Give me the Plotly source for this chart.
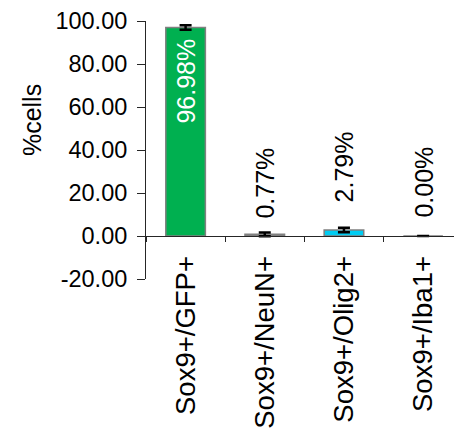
import plotly.graph_objects as go

categories = ["Sox9+/GFP+", "Sox9+/NeuN+", "Sox9+/Olig2+", "Sox9+/Iba1+"]
values = [96.98, 0.77, 2.79, 0.00]
errors = [1.0, 0.9, 1.07, 0.0]
bar_colors = ["#00B050", "#7F7F7F", "#00CCF2", "#7F7F7F"]
y_ticks = [-20, 0, 20, 40, 60, 80, 100]
y_tick_labels = ["-20.00", "0.00", "20.00", "40.00", "60.00", "80.00", "100.00"]
y_title = "%cells"

FONT = "Arial, 'Liberation Sans', sans-serif"
y_min, y_max = -20, 100

fig = go.Figure()
fig.add_trace(go.Bar(
    x=categories, y=values,
    width=0.5,
    marker=dict(color=bar_colors, line=dict(color="#808080", width=1.5)),
    error_y=dict(type="data", array=errors, visible=True,
                 color="#000000", thickness=2.5, width=6),
    showlegend=False,
))

annotations = []
label_shift = [-9, 14, 26, 16]
for i, (c, v) in enumerate(zip(categories, values)):
    inside = i == 0
    annotations.append(dict(
        x=c, y=v, xref="x", yref="y",
        text=f"{v:.2f}%", showarrow=False, textangle=-90,
        yanchor="top" if inside else "bottom", xanchor="center",
        yshift=label_shift[i],
        font=dict(family=FONT, size=25, color="#FFFFFF" if inside else "#000000"),
    ))
annotations.append(dict(
    xref="paper", yref="paper", x=0, y=0.616, xshift=-114,
    text=y_title, showarrow=False, textangle=-90,
    xanchor="center", yanchor="middle",
    font=dict(family=FONT, size=25, color="#000000"),
))

fig.update_layout(
    width=454, height=433,
    margin=dict(l=146, r=0, t=21, b=154),
    paper_bgcolor="white", plot_bgcolor="white",
    annotations=annotations,
    bargap=0.5,
    xaxis=dict(
        type="category", range=[-0.5, 3.39],
        anchor="free", position=(0 - y_min) / (y_max - y_min),
        showline=True, linecolor="#262626", linewidth=1,
        ticks="outside", ticklen=5, tickcolor="#262626", tickwidth=1,
        tickson="boundaries", tickangle=-90,
        tickfont=dict(family=FONT, size=27.5, color="#000000"),
        ticklabelstandoff=8,
        showgrid=False, zeroline=False,
    ),
    yaxis=dict(
        range=[y_min, y_max], tickvals=y_ticks, ticktext=y_tick_labels,
        showline=True, linecolor="#262626", linewidth=1,
        ticks="outside", ticklen=8, tickcolor="#262626", tickwidth=1,
        tickfont=dict(family=FONT, size=23.5, color="#000000"),
        ticklabelstandoff=5,
        showgrid=False, zeroline=False,
    ),
)

fig.write_html("out.html")
